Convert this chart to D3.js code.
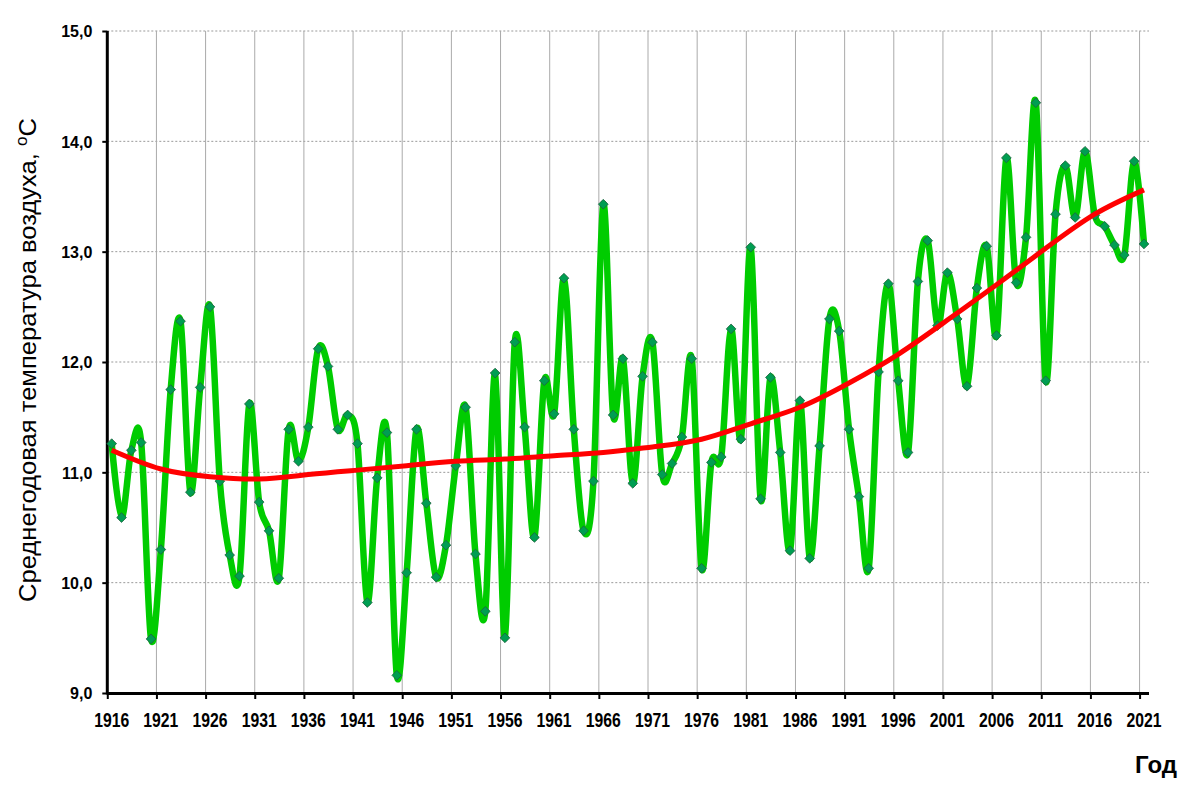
<!DOCTYPE html>
<html><head><meta charset="utf-8">
<script src="https://cdn.jsdelivr.net/npm/d3@7"></script>
<style>body{margin:0;background:#fff}svg{display:block}</style>
</head><body>
<svg id="c" width="1200" height="792"></svg>
<script>
const years = d3.range(1916, 2022);
const temps = [
 11.26,10.59,11.20,11.27,9.49,10.30,11.75,12.37,10.82,11.77,
 12.50,10.92,10.25,10.06,11.62,10.73,10.47,10.04,11.39,11.10,
 11.41,12.12,11.96,11.39,11.52,11.26,9.82,10.95,11.36,9.16,
 10.09,11.39,10.72,10.05,10.34,11.06,11.59,10.26,9.74,11.90,
 9.50,12.18,11.41,10.41,11.83,11.53,12.76,11.39,10.47,10.92,
 13.43,11.52,12.03,10.90,11.87,12.18,10.98,11.08,11.32,12.03,
 10.13,11.09,11.14,12.30,11.30,13.04,10.76,11.86,11.18,10.29,
 11.65,10.22,11.24,12.39,12.28,11.39,10.78,10.13,11.91,12.71,
 11.83,11.18,12.73,13.10,12.33,12.81,12.39,11.78,12.67,13.05,
 12.24,13.85,12.72,13.13,14.35,11.83,13.34,13.78,13.31,13.91,
 13.33,13.23,13.06,12.97,13.82,13.07
];
const trendYears = [1916,1921,1926,1931,1936,1941,1946,1951,1956,1961,1966,1971,1976,1981,1986,1991,1996,2001,2006,2011,2016,2021];
const trendVals  = [11.20,11.03,10.96,10.94,10.98,11.02,11.06,11.10,11.12,11.15,11.18,11.23,11.30,11.44,11.59,11.81,12.07,12.38,12.70,13.03,13.34,13.56];
const tickLabels = d3.range(1916, 2022, 5);
const yTicks = [9,10,11,12,13,14,15];

const svg = d3.select("#c");
const L = 107.3, R = 1149, T = 31, B = 693;
const x = d3.scaleLinear().domain([1916, 2021]).range([111.7, 1144]);
const y = d3.scaleLinear().domain([9, 15]).range([B, T]);
const off = -0.45; // tick/grid offset in years
const FF = "Liberation Sans, Arial, sans-serif";

// horizontal dotted gridlines
svg.append("g").selectAll("line").data(yTicks.slice(1)).join("line")
  .attr("x1", L).attr("x2", R).attr("y1", d=>y(d)).attr("y2", d=>y(d))
  .attr("stroke", "#999").attr("stroke-width", 1).attr("stroke-dasharray", "2,2");
// vertical gridlines
svg.append("g").selectAll("line").data(tickLabels.slice(1)).join("line")
  .attr("x1", d=>x(d+off)).attr("x2", d=>x(d+off)).attr("y1", T).attr("y2", B)
  .attr("stroke", "#aaa").attr("stroke-width", 1);

// axes
const xAxis = d3.axisBottom(x).tickValues(tickLabels.map(d=>d+off)).tickSize(6).tickFormat("");
const gx = svg.append("g").attr("transform", `translate(0,${B})`).call(xAxis);
gx.select(".domain").attr("d", `M${L},0.5H${R}`).attr("stroke", "#000").attr("stroke-width", 3);
gx.selectAll(".tick line").attr("stroke", "#000").attr("stroke-width", 2);
svg.append("g").selectAll("text").data(tickLabels).join("text")
  .attr("x", d=>x(d)).attr("y", 727).attr("text-anchor", "middle")
  .attr("font-family", FF).attr("font-weight", "bold")
  .attr("font-size", 21).attr("textLength", 35).attr("lengthAdjust", "spacingAndGlyphs")
  .text(d=>d);

const yAxis = d3.axisLeft(y).tickValues(yTicks).tickSize(5)
  .tickFormat(d=>d3.format(".1f")(d).replace(".", ","));
const gy = svg.append("g").attr("transform", `translate(${L},0)`).call(yAxis);
gy.select(".domain").attr("d", `M0,${T}V${B+1.5}`).attr("stroke", "#000").attr("stroke-width", 3);
gy.selectAll(".tick line").attr("stroke", "#000").attr("stroke-width", 2);
gy.selectAll(".tick text").attr("x", -15).attr("dy", "0.36em")
  .attr("font-family", FF).attr("font-weight", "bold")
  .attr("font-size", 16).attr("fill", "#000");

// titles
const yt = svg.append("text").attr("transform", "translate(36,360) rotate(-90)")
  .attr("text-anchor", "middle").attr("font-family", FF)
  .attr("font-size", 24).attr("fill", "#000")
  .attr("textLength", 484).attr("lengthAdjust", "spacingAndGlyphs");
yt.append("tspan").text("Среднегодовая  температура  воздуха,  ");
yt.append("tspan").attr("font-size", 16).attr("dy", -9).text("о");
yt.append("tspan").attr("dy", 9).text("С");
svg.append("text").attr("x", 1156).attr("y", 773).attr("text-anchor", "middle")
  .attr("font-family", FF).attr("font-weight", "bold")
  .attr("font-size", 24).text("Год");

const data = years.map((yr,i)=>({yr, v: temps[i]}));
// green smoothed line
svg.append("path").datum(data)
  .attr("d", d3.line().x(d=>x(d.yr)).y(d=>y(d.v)).curve(d3.curveCatmullRom.alpha(0)))
  .attr("fill", "none").attr("stroke", "#00cc00").attr("stroke-width", 6.5).attr("stroke-linejoin", "round");
// markers
svg.append("g").selectAll("path").data(data).join("path")
  .attr("transform", d=>`translate(${x(d.yr)},${y(d.v)})`)
  .attr("d", d3.symbol(d3.symbolDiamond2, 60))
  .attr("fill", "#009e52").attr("stroke", "#1f5f3f").attr("stroke-width", 0.8);
// red trend
const trend = trendYears.map((yr,i)=>({yr, v: trendVals[i]}));
svg.append("path").datum(trend)
  .attr("d", d3.line().x(d=>x(d.yr)).y(d=>y(d.v)).curve(d3.curveNatural))
  .attr("fill", "none").attr("stroke", "#ff0000").attr("stroke-width", 5);
</script>
</body></html>
